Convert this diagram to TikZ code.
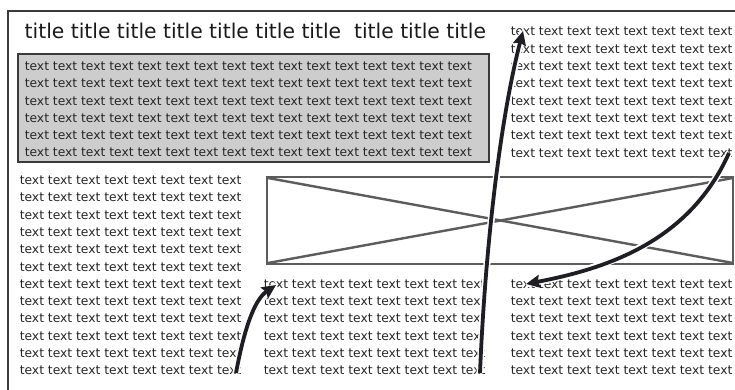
\documentclass[tikz,border=0pt]{standalone}
\usepackage{fontspec}
\setmainfont{DejaVu Sans}
\usetikzlibrary{arrows.meta}
\definecolor{ink}{HTML}{262626}
\definecolor{frameC}{HTML}{3A3A3A}
\definecolor{boxfill}{HTML}{CDCDCD}
\definecolor{imgC}{HTML}{5C5C5C}
\definecolor{arrowC}{HTML}{1E1E24}
\newcommand{\eighttext}{text text text text text text text text}
\newcommand{\sixteentext}{\eighttext{} \eighttext}
\begin{document}
\begin{tikzpicture}[x=1pt,y=-1pt,
  txt/.style={anchor=base west, inner sep=0pt, text=ink, font=\fontsize{12.3}{14}\selectfont},
  framestyle/.style={draw=frameC, line width=2pt},
  graybox/.style={draw=frameC, line width=2pt, fill=boxfill},
  imgbox/.style={draw=imgC, line width=2pt},
  imgline/.style={draw=imgC, line width=2.4pt},
  halo/.style={draw=white, line width=7pt},
  arr/.style={draw=arrowC, line width=3.8pt, -{Stealth[length=14pt,width=13pt,inset=2pt]}}]
\clip (0,0) rectangle (735,390);
\fill[white] (0,0) rectangle (735,390);
% outer frame
\draw[framestyle] (8,11) rectangle (760,420);
% title
\node[anchor=base west, inner sep=0pt, text=black!90, font=\fontsize{20.3}{24}\selectfont] (title) at (24.5,38.5) {title title title title title title title\ \ title title title};
% gray box
\draw[graybox] (18,54) rectangle (489,162);
\foreach \i in {0,...,5} \node[txt] (gray\i) at (24.6,70.5+17.3*\i) {\sixteentext};
% right top column
\foreach \i in {0,...,7} \node[txt] (rt\i) at (510.6,36+17.3*\i) {\eighttext};
% left column
\foreach \i in {0,...,11} \node[txt] (lc\i) at (19.6,184.5+17.3*\i) {\eighttext};
% middle bottom column
\foreach \i in {0,...,5} \node[txt] (mb\i) at (263.6,288.3+17.3*\i) {\eighttext};
% right bottom column
\foreach \i in {0,...,5} \node[txt] (rb\i) at (510.6,288.3+17.3*\i) {\eighttext};
% image placeholder
\draw[imgbox] (267,177) rectangle (733,264);
\draw[imgline] (268,178) -- (733,263);
\draw[imgline] (268,263) -- (733,178);
% arrows
\coordinate (aS) at (236,373);
\coordinate (aE) at (276,285);
\coordinate (bS) at (480,373);
\coordinate (bE) at (523,31);
\coordinate (cS) at (729,153);
\coordinate (cE) at (526,284);
\draw[halo] (aS) .. controls (244,330) and (254,300) .. (aE);
\draw[halo] (bS) .. controls (485,250) and (500,120) .. (bE);
\draw[halo] (cS) .. controls (690,240) and (610,268) .. (cE);
\draw[arr] (aS) .. controls (244,330) and (254,300) .. (aE);
\draw[arr] (bS) .. controls (485,250) and (500,120) .. (bE);
\draw[arr] (cS) .. controls (690,240) and (610,268) .. (cE);
\end{tikzpicture}
\end{document}
